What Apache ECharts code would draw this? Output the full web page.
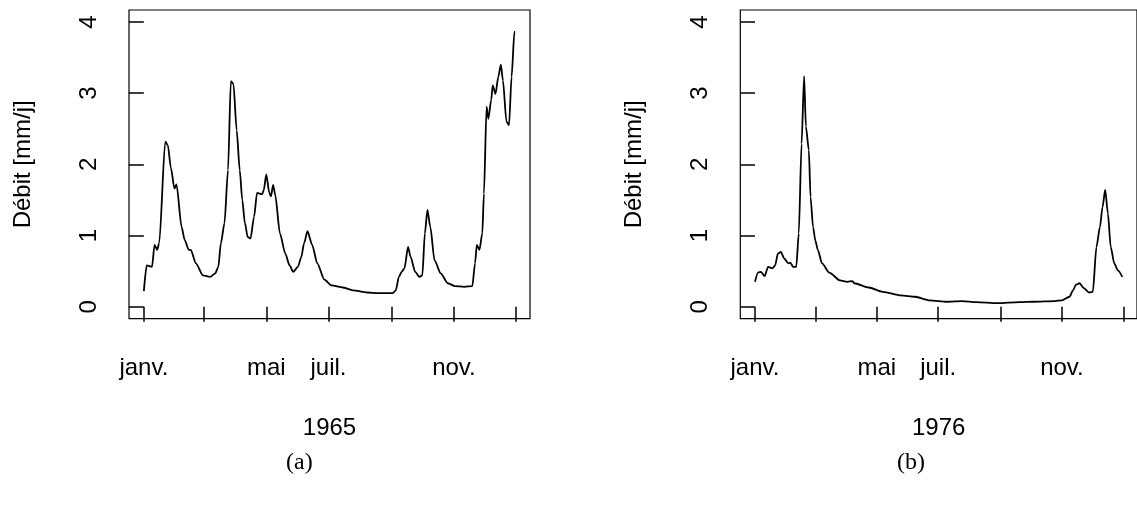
<!DOCTYPE html>
<html>
<head>
<meta charset="utf-8">
<script src="https://cdn.jsdelivr.net/npm/echarts@6/dist/echarts.min.js"></script>
<style>
html,body{margin:0;padding:0;background:#fff;}
#c{width:1137px;height:517px;}
</style>
</head>
<body>
<div id="c"></div>
<script>
// Day of year (0 = 1 Jan) and discharge [mm/j], 1965
const days1965 = [0,2.8,8,10.5,13,15,21,23.5,26.5,30,32,37,40,44,46,51,58,65,70,73,75.5,79,82.5,85.3,87.8,91,94,96.5,99,101.8,104.6,108,111,116,117.6,120,123,124.6,126.7,128.8,133.4,138.6,142.9,146.4,151,154.4,157,160.4,165,170,177,184,195,205,219,230,244,247,250,252.7,255.5,259,261.5,266,270,273,275.5,278,280.8,285,291,298,305,314,322,324.7,326.4,329,331.8,333.4,336,337.7,340.5,342,344.7,347.5,350,352,355.5,358,360.5,363.3,364];
const flow1965 = [0.22,0.58,0.56,0.87,0.80,0.89,2.32,2.27,1.95,1.66,1.72,1.12,0.94,0.80,0.80,0.61,0.44,0.42,0.47,0.56,0.89,1.17,1.92,3.17,3.13,2.48,1.92,1.50,1.18,0.98,0.96,1.26,1.60,1.58,1.64,1.86,1.60,1.55,1.71,1.57,1.03,0.75,0.58,0.49,0.56,0.70,0.89,1.06,0.87,0.61,0.38,0.30,0.27,0.23,0.20,0.19,0.19,0.23,0.42,0.49,0.54,0.84,0.70,0.49,0.42,0.44,1.03,1.36,1.12,0.65,0.47,0.33,0.29,0.28,0.29,0.61,0.87,0.80,1.03,1.59,2.81,2.64,2.90,3.11,2.99,3.23,3.40,3.18,2.60,2.55,3.23,3.86,3.86];

// Day of year (0 = 1 Jan) and discharge [mm/j], 1976
const days1976 = [0,3,6,9.6,13,17.5,20,22.8,25.7,29,33,35,38,41,43.5,46.3,48.8,50.6,53.5,55.2,57.7,60,62.4,66.6,73.8,84.5,91.6,97,98.7,113,127,145,159,173.6,191,205.6,220,241,262.6,277,298,305,312.5,316,319,322.5,326.8,332,335.7,339.3,342.8,345.3,348,350.7,353.5,357,360.6,365];
const flow1976 = [0.35,0.48,0.49,0.43,0.56,0.54,0.58,0.75,0.77,0.68,0.61,0.62,0.56,0.56,1.03,2.29,3.24,2.53,2.20,1.54,1.12,0.93,0.80,0.61,0.48,0.37,0.35,0.36,0.33,0.27,0.21,0.16,0.14,0.09,0.07,0.08,0.065,0.05,0.065,0.07,0.08,0.09,0.14,0.23,0.31,0.33,0.26,0.20,0.21,0.84,1.12,1.40,1.64,1.31,0.84,0.61,0.51,0.42];

// Axis ticks
const yTicks = [0,1,2,3,4];
const monthTicks1965 = [0,59,120,181,243,304,365];
const monthTicks1976 = [0,60,121,182,244,305,366];
const labelDays1965 = [0,120,181,304];
const labelDays1976 = [0,121,182,305];
const monthLabels = ['janv.','mai','juil.','nov.'];
const years = ['1965','1976'];
const panelTags = ['(a)','(b)'];
const yTitle = 'Débit [mm/j]';

const FONT = 'Liberation Sans, Arial, sans-serif';
const chart = echarts.init(document.getElementById('c'), null, {renderer:'canvas'});

function pairs(d, v){ return d.map((x,i)=>[x, v[i]]); }
function labelFmt(labelDays){
  return function(val){
    const i = labelDays.indexOf(Math.round(val));
    return i >= 0 ? monthLabels[i] : '';
  };
}
function xAxis(idx, ticks, labelDays, yr, min, max){
  return {
    type:'value', gridIndex:idx, min:min, max:max,
    name: yr, nameLocation:'middle', nameGap:98,
    nameTextStyle:{fontFamily:FONT, fontSize:24, color:'#000'},
    axisLine:{show:false},
    splitLine:{show:false},
    axisTick:{show:true, customValues:ticks, length:15, lineStyle:{color:'#000', width:1.5}},
    axisLabel:{show:true, customValues:labelDays, formatter:labelFmt(labelDays),
      fontFamily:FONT, fontSize:24, color:'#000', margin:38}
  };
}
function yAxis(idx){
  return {
    type:'value', gridIndex:idx, min:-0.168, max:4.168,
    name: yTitle, nameLocation:'middle', nameGap:94, nameRotate:90,
    nameTextStyle:{fontFamily:FONT, fontSize:24, color:'#000'},
    axisLine:{show:false},
    splitLine:{show:false},
    axisTick:{show:true, customValues:yTicks, length:15, lineStyle:{color:'#000', width:1.5}},
    axisLabel:{show:true, customValues:yTicks, rotate:90, fontFamily:FONT, fontSize:24, color:'#000', margin:28}
  };
}

chart.setOption({
  animation:false,
  backgroundColor:'#fff',
  title:[
    {text:panelTags[0], left:281, top:446, textStyle:{fontFamily:'Liberation Serif, serif', fontSize:24, fontWeight:'normal', color:'#000'}},
    {text:panelTags[1], left:892, top:446, textStyle:{fontFamily:'Liberation Serif, serif', fontSize:24, fontWeight:'normal', color:'#000'}}
  ],
  grid:[
    {left:129, top:10, width:401, height:308.7, show:true, borderColor:'#000', borderWidth:1.2, backgroundColor:'transparent'},
    {left:740.3, top:10, width:401.7, height:308.7, show:true, borderColor:'#000', borderWidth:1.2, backgroundColor:'transparent'}
  ],
  xAxis:[
    xAxis(0, monthTicks1965, labelDays1965, years[0], -14.56, 378.56),
    xAxis(1, monthTicks1976, labelDays1976, years[1], -14.6, 379.6)
  ],
  yAxis:[ yAxis(0), yAxis(1) ],
  series:[
    {type:'line', xAxisIndex:0, yAxisIndex:0, data:pairs(days1965, flow1965), showSymbol:false, symbol:'none', smooth:0.25, smoothMonotone:'x', lineStyle:{color:'#000', width:1.8}},
    {type:'line', xAxisIndex:1, yAxisIndex:1, data:pairs(days1976, flow1976), showSymbol:false, symbol:'none', smooth:0.25, smoothMonotone:'x', lineStyle:{color:'#000', width:1.8}}
  ]
});
</script>
</body>
</html>
